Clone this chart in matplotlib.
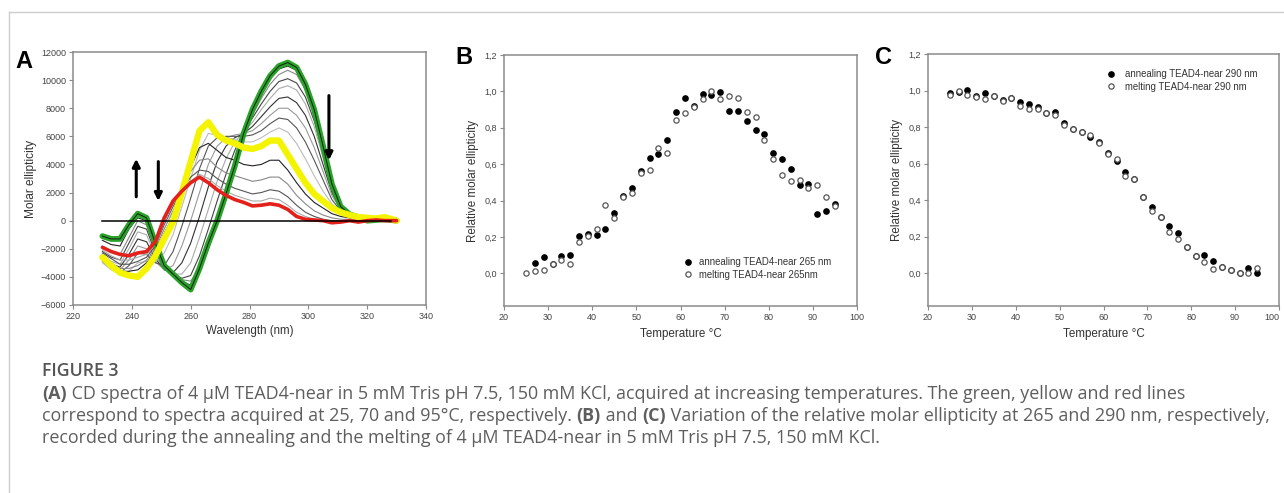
import numpy as np
import matplotlib.pyplot as plt

# ---- Panel A: CD spectra (wavelength grid in nm, molar ellipticity) ----
wl = [230, 233, 236, 239, 242, 245, 248, 251, 254, 257, 260, 263, 266, 269, 272, 275, 278,
      281, 284, 287, 290, 293, 296, 299, 302, 305, 308, 311, 314, 317, 320, 323, 326, 330]

spec_25 = [-1100, -1300, -1300, -300, 500, 200, -1600, -3200, -3800, -4400, -4900, -3400, -1600,
           0, 1900, 3900, 6200, 7900, 9200, 10300, 11000, 11250, 10900, 9700, 7900, 5300, 2600,
           1000, 450, 250, 0, 50, 100, 0]
spec_70 = [-2600, -3200, -3700, -3900, -4000, -3400, -2500, -1300, -100, 2000, 4200, 6400, 7000,
           6100, 5700, 5500, 5200, 5100, 5300, 5700, 5700, 4700, 3700, 2700, 1900, 1400, 900,
           600, 400, 250, 200, 150, 250, 0]
spec_95 = [-1900, -2200, -2400, -2500, -2300, -2200, -1500, 200, 1400, 2100, 2700, 3100, 2700,
           2200, 1800, 1500, 1300, 1050, 1100, 1200, 1100, 800, 300, 100, 50, 0, -150, -100, 0,
           -100, 0, 50, 0, 0]

# intermediate temperatures (grey traces)
spec_30 = [-1400, -1700, -1800, -600, 200, 0, -1800, -3100, -3700, -4300, -4600, -3600, -2000,
           -300, 1700, 3700, 6000, 7700, 9000, 10100, 10800, 11000, 10700, 9500, 7700, 5200,
           2500, 1000, 400, 250, 0, 50, 100, 0]
spec_35 = [-1800, -2200, -2400, -1200, 0, -300, -2000, -3200, -3800, -4200, -4300, -3400, -1600,
           200, 2400, 4200, 6100, 7500, 8700, 9700, 10400, 10700, 10400, 9300, 7500, 5000, 2400,
           900, 400, 200, 0, 50, 100, 0]
spec_40 = [-2200, -2600, -2800, -1600, -400, -600, -2300, -3300, -3800, -4100, -3900, -2500, -600,
           1400, 3300, 5000, 6300, 7300, 8300, 9200, 9900, 10100, 9800, 8800, 7100, 4800, 2300,
           900, 400, 200, 0, 50, 100, 0]
spec_45 = [-2400, -2900, -3100, -2000, -800, -1000, -2500, -3400, -3800, -3800, -3000, -1200, 800,
           2800, 4400, 5600, 6300, 7000, 7900, 8700, 9400, 9600, 9300, 8300, 6700, 4500, 2200,
           900, 400, 200, 0, 50, 100, 0]
spec_50 = [-2600, -3100, -3300, -2400, -1300, -1500, -2700, -3500, -3700, -3000, -1600, 300, 2400,
           4200, 5300, 5900, 6200, 6700, 7400, 8100, 8700, 8800, 8400, 7500, 6000, 4000, 2000,
           800, 400, 200, 0, 50, 100, 0]
spec_55 = [-2800, -3300, -3500, -2800, -1800, -2000, -2900, -3500, -3200, -1800, 0, 2000, 4000,
           5300, 5900, 6100, 6200, 6400, 6900, 7500, 8000, 8000, 7500, 6600, 5200, 3500, 1800,
           800, 400, 200, 50, 50, 100, 0]
spec_60 = [-2900, -3400, -3700, -3200, -2300, -2400, -3000, -3200, -2200, -400, 1600, 3700, 5300,
           5900, 6000, 6000, 6000, 6100, 6400, 6900, 7300, 7200, 6600, 5600, 4300, 2900, 1500,
           700, 350, 200, 50, 50, 100, 0]
spec_65 = [-3000, -3500, -3800, -3600, -3000, -2900, -2900, -2300, -1000, 1000, 3000, 5000, 6200,
           6100, 5900, 5800, 5600, 5600, 5900, 6300, 6600, 6300, 5500, 4400, 3200, 2100, 1200,
           600, 350, 200, 50, 50, 100, 0]
spec_75 = [-2700, -3200, -3600, -3600, -3500, -3000, -2200, -900, 300, 2000, 3800, 5200, 5500,
           5000, 4500, 4300, 4000, 3900, 4000, 4300, 4300, 3600, 2700, 1900, 1300, 900, 500, 300,
           200, 100, 100, 100, 150, 0]
spec_80 = [-2500, -3000, -3400, -3400, -3200, -2800, -2000, -600, 700, 2100, 3500, 4300, 4400,
           3800, 3400, 3200, 3000, 2800, 2900, 3100, 3100, 2600, 1800, 1200, 700, 400, 200, 100,
           100, 50, 50, 50, 100, 0]
spec_85 = [-2300, -2700, -3100, -3100, -2900, -2600, -1800, -300, 1000, 2200, 3100, 3600, 3500,
           3000, 2600, 2300, 2100, 1900, 2000, 2200, 2100, 1700, 1100, 600, 300, 100, 0, 0, 0, 0,
           0, 50, 50, 0]
spec_90 = [-2100, -2500, -2800, -2800, -2600, -2400, -1700, -100, 1200, 2100, 2800, 3300, 3000,
           2500, 2100, 1800, 1600, 1400, 1400, 1600, 1500, 1100, 600, 300, 100, 0, -100, 0, 0, 0,
           0, 50, 50, 0]
grey_spectra = [spec_30, spec_35, spec_40, spec_45, spec_50, spec_55, spec_60, spec_65,
                spec_75, spec_80, spec_85, spec_90]

# ---- Panel B: relative ellipticity at 265 nm ----
t_ann = list(range(27, 97, 2))
b_ann = [0.055, 0.091, 0.052, 0.097, 0.10, 0.206, 0.215, 0.21, 0.246, 0.33, 0.425, 0.47, 0.562,
         0.635, 0.653, 0.735, 0.885, 0.963, 0.92, 0.987, 0.98, 0.996, 0.894, 0.894, 0.836, 0.79,
         0.763, 0.662, 0.63, 0.575, 0.484, 0.49, 0.325, 0.343, 0.383]
t_melt = list(range(25, 97, 2))
b_melt = [0.0, 0.01, 0.018, 0.05, 0.075, 0.05, 0.17, 0.206, 0.246, 0.376, 0.303, 0.42, 0.443,
          0.553, 0.566, 0.69, 0.659, 0.841, 0.881, 0.914, 0.96, 1.0, 0.96, 0.973, 0.963, 0.887,
          0.858, 0.73, 0.626, 0.538, 0.507, 0.511, 0.467, 0.485, 0.42, 0.37]

# ---- Panel C: relative ellipticity at 290 nm ----
t_c = list(range(25, 97, 2))
c_ann = [0.985, 0.99, 1.004, 0.97, 0.985, 0.97, 0.95, 0.96, 0.938, 0.925, 0.91, 0.876, 0.882,
         0.82, 0.79, 0.773, 0.745, 0.718, 0.66, 0.614, 0.554, 0.518, 0.418, 0.36, 0.309, 0.258,
         0.218, 0.145, 0.094, 0.1, 0.067, 0.036, 0.018, 0.003, 0.027, 0.0]
c_melt = [0.973, 1.0, 0.973, 0.967, 0.955, 0.97, 0.945, 0.96, 0.915, 0.9, 0.9, 0.876, 0.864,
          0.81, 0.79, 0.773, 0.755, 0.71, 0.655, 0.627, 0.531, 0.518, 0.418, 0.342, 0.309, 0.227,
          0.185, 0.145, 0.094, 0.063, 0.022, 0.036, 0.018, 0.003, 0.003, 0.027]

arrows_a = [(241.5, 1700, 4400), (249, 4200, 1400), (307, 8900, 4300)]  # x, from, to

plt.rcParams['font.family'] = ['Liberation Sans', 'DejaVu Sans']
tick_col = '#444444'
spine_col = '#8a8a8a'

fig = plt.figure(figsize=(12.84, 4.93), dpi=100)
W, H = 1284, 493


def px_axes(l, t, r, b):
    return fig.add_axes([l / W, 1 - b / H, (r - l) / W, (b - t) / H])


def style(ax):
    for s in ax.spines.values():
        s.set_color(spine_col)
        s.set_linewidth(1.1)
    ax.tick_params(direction='out', length=3, width=0.8, color=spine_col,
                   labelsize=6.5, labelcolor=tick_col, pad=2)


# Panel A
axA = px_axes(73, 52, 426, 305)
grey_cols = ['#222222', '#888888', '#444444', '#aaaaaa', '#333333', '#999999',
             '#555555', '#bbbbbb', '#222222', '#888888', '#555555', '#aaaaaa']
for s, c in zip(grey_spectra, grey_cols):
    axA.plot(wl, s, color=c, lw=0.8)
axA.plot(wl, spec_25, color='#27a327', lw=4.2, solid_capstyle='round')
axA.plot(wl, spec_25, color='#1a1a1a', lw=0.7)
axA.plot(wl, spec_70, color='#f4f400', lw=4.6, solid_capstyle='round')
axA.plot(wl, spec_95, color='#e3201b', lw=2.6, solid_capstyle='round')
axA.plot([230, 328], [0, 0], color='black', lw=1.1)
for x, y0, y1 in arrows_a:
    axA.annotate('', xy=(x, y1), xytext=(x, y0),
                 arrowprops=dict(arrowstyle='-|>', color='black', lw=2.2, mutation_scale=11,
                                 shrinkA=0, shrinkB=0))
axA.set_xlim(220, 340)
axA.set_ylim(-6000, 12000)
axA.set_xticks(range(220, 341, 20))
axA.set_yticks(range(-6000, 12001, 2000))
axA.set_xlabel('Wavelength (nm)', fontsize=8.3, color='#333333', labelpad=3)
axA.set_ylabel('Molar ellipticity', fontsize=8.6, color='#333333', labelpad=3)
style(axA)


def scatter_panel(ax, t1, y1, t2, y2, lab1, lab2):
    ax.plot(t1, y1, 'o', ms=3.8, color='black', label=lab1)
    ax.plot(t2, y2, 'o', ms=3.8, mfc='white', mec='#555555', mew=0.9, label=lab2)
    ax.set_xlim(20, 100)
    ax.set_ylim(-0.18, 1.2)
    ax.set_xticks(range(20, 101, 10))
    ax.set_yticks(np.arange(0, 1.21, 0.2))
    ax.set_yticklabels(['0,0', '0,2', '0,4', '0,6', '0,8', '1,0', '1,2'])
    ax.set_xlabel('Temperature °C', fontsize=8.4, color='#333333', labelpad=4)
    ax.set_ylabel('Relative molar ellipticity', fontsize=8.4, color='#333333', labelpad=4)
    style(ax)


axB = px_axes(504, 55, 857, 306)
scatter_panel(axB, t_ann, b_ann, t_melt, b_melt,
              'annealing TEAD4-near 265 nm', 'melting TEAD4-near 265nm')
axB.legend(frameon=False, loc='lower left', bbox_to_anchor=(0.48, 0.07), fontsize=6.9,
           handletextpad=0.6, labelspacing=0.3, handlelength=1.2, labelcolor='#333333')

axC = px_axes(928, 54, 1279, 306)
scatter_panel(axC, t_c, c_ann, t_c, c_melt,
              'annealing TEAD4-near 290 nm', 'melting TEAD4-near 290 nm')
axC.legend(frameon=False, loc='upper left', bbox_to_anchor=(0.48, 0.975), fontsize=6.9,
           handletextpad=0.9, labelspacing=0.3, handlelength=1.2, labelcolor='#333333')
axC.get_xticklabels()[-1].set_horizontalalignment('right')

# panel letters
for x, y, s in [(24, 61, 'A'), (464, 57, 'B'), (884, 57, 'C')]:
    fig.text(x / W, 1 - y / H, s, fontsize=17, fontweight='bold', ha='center', va='center')

# frame lines of the figure box
fig.add_artist(plt.Line2D([9 / W, 1], [1 - 12 / H, 1 - 12 / H], color='#cccccc', lw=1))
fig.add_artist(plt.Line2D([9 / W, 9 / W], [0, 1 - 12 / H], color='#cccccc', lw=1))

# caption
cap_font = 'Open Sans'
cap_col = '#5e5e5e'
cap_size = 12.9
fig.text(42 / W, 1 - 371 / H, 'FIGURE 3', fontsize=12.8, fontweight='semibold',
         family=cap_font, color='#555555', va='center')

renderer = fig.canvas.get_renderer()


def caption_line(y, parts):
    x = 42
    for s, bold in parts:
        t = fig.text(x / W, 1 - y / H, s, fontsize=cap_size, family=cap_font, color=cap_col,
                     fontweight='bold' if bold else 'normal', va='center')
        x += t.get_window_extent(renderer).width


caption_line(394, [('(A)', True),
                   (' CD spectra of 4 μM TEAD4-near in 5 mM Tris pH 7.5, 150 mM KCl, acquired at '
                    'increasing temperatures. The green, yellow and red lines', False)])
caption_line(416, [('correspond to spectra acquired at 25, 70 and 95°C, respectively. ', False),
                   ('(B)', True), (' and ', False), ('(C)', True),
                   (' Variation of the relative molar ellipticity at 265 and 290 nm, respectively,',
                    False)])
caption_line(438, [('recorded during the annealing and the melting of 4 μM TEAD4-near in 5 mM '
                    'Tris pH 7.5, 150 mM KCl.', False)])

fig.savefig('out.png', dpi=100)
